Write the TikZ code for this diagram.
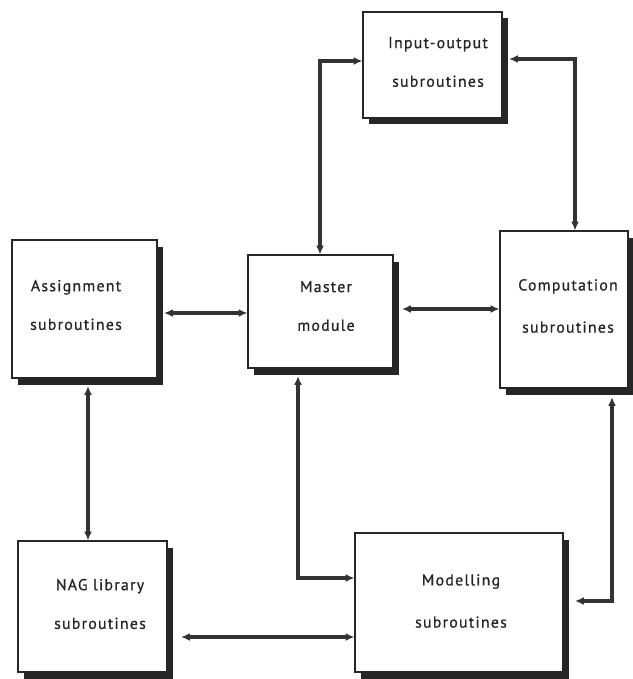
\documentclass[tikz,border=0pt]{standalone}
\usepackage{fontspec}
\setmainfont{PT Sans}[LetterSpace=8,FakeBold=0.8]
\usetikzlibrary{arrows.meta,shadows,fit}
\begin{document}
\begin{tikzpicture}[x=0.02cm,y=-0.02cm,
 box/.style={draw=black!85, line width=0.6pt, fill=white, inner sep=0pt,
   drop shadow={shadow xshift=0.12cm, shadow yshift=-0.13cm, fill=black!85, opacity=1}},
 lbl/.style={align=center, font=\fontsize{9}{22}\selectfont, text=black!85},
 lblw/.style={lbl, font=\fontsize{9}{24}\selectfont},
 tip/.tip={Latex[length=5pt,width=4.5pt]},
 conn/.style={line width=2pt, draw=black!80, tip-tip}]
\useasboundingbox[fill=white] (0,0) rectangle (632,679);
% boxes
\node[box, fit={(363,12) (502,118)}] (io) {};
\node[box, fit={(12,240) (157,378)}] (asg) {};
\node[box, fit={(248,255) (393,368)}] (mst) {};
\node[box, fit={(500,231) (628,388)}] (cmp) {};
\node[box, fit={(18,541) (167,672)}] (nag) {};
\node[box, fit={(355,533) (563,672)}] (mod) {};
% labels
\node[lbl] (tio) at (438,62) {Input-output\\subroutines};
\node[lbl] (tasg) at (76,305) {Assignment\\subroutines};
\node[lbl] (tmst) at (326,306) {Master\\module};
\node[lblw] (tcmp) at (568,306) {Computation\\subroutines};
\node[lbl] (tnag) at (100,604) {NAG library\\subroutines};
\node[lblw] (tmod) at (461,601) {Modelling\\subroutines};
% connectors
\draw[conn] (mst.north -| 320,0) |- (io.west |- 0,61);
\coordinate (ioR) at (509,59);
\draw[conn] (ioR) -| (cmp.north -| 575,0);
\coordinate (asgR) at (164,313);
\draw[conn] (asgR) -- (mst.west |- 0,313);
\coordinate (mstR) at (402,309);
\draw[conn] (mstR) -- (cmp.west |- 0,309);
\coordinate (asgB) at (88,386);
\draw[conn] (asgB) -- (nag.north -| 88,0);
\coordinate (mstB) at (298,376);
\draw[conn] (mstB) |- (mod.west |- 0,578);
\coordinate (cmpB) at (612,397);
\coordinate (modR) at (575,601);
\draw[conn] (cmpB) |- (modR);
\coordinate (nagR) at (181,637);
\draw[conn] (nagR) -- (mod.west |- 0,637);
\end{tikzpicture}
\end{document}
